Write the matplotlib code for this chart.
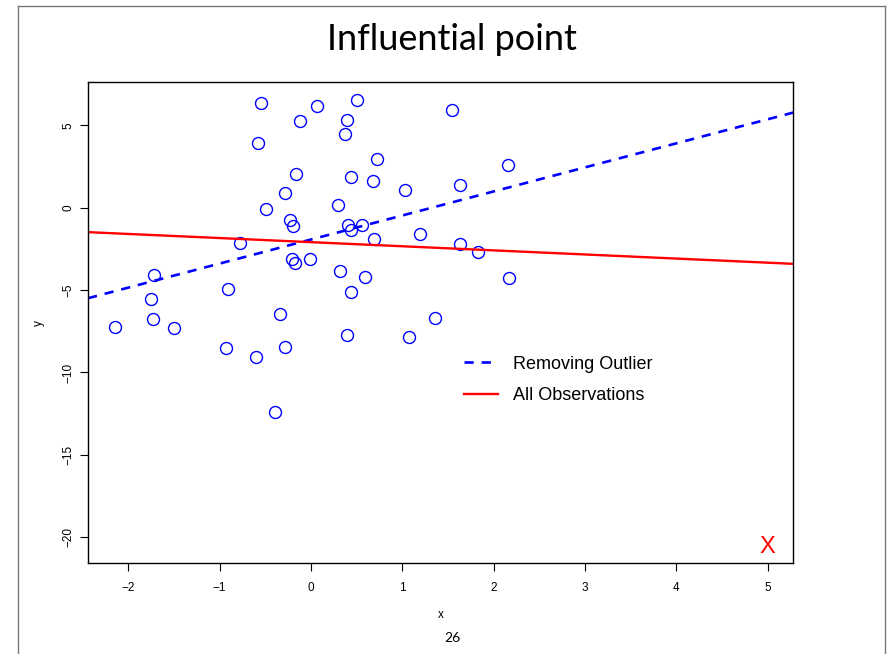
import numpy as np
import matplotlib.pyplot as plt
from matplotlib.lines import Line2D

# observations
x = [-2.15, -1.72, -1.75, -1.73, -1.50, -0.78, -0.91, -0.93, -0.60, -0.55,
     -0.58, -0.49, -0.39, -0.34, -0.28, -0.29, -0.23, -0.20, -0.21, -0.18,
     -0.16, -0.12, -0.01, 0.07, 0.30, 0.32, 0.37, 0.39, 0.50, 0.40,
     0.44, 0.44, 0.44, 0.39, 0.56, 0.59, 0.68, 0.69, 0.72, 1.03,
     1.07, 1.19, 1.36, 1.54, 1.63, 1.63, 1.83, 2.16, 2.17]
y = [-7.22, -4.08, -5.54, -6.74, -7.32, -2.14, -4.95, -8.53, -9.06, 6.37,
     3.94, -0.10, -12.38, -6.43, -8.43, 0.87, -0.73, -1.09, -3.11, -3.34,
     2.06, 5.28, -3.11, 6.19, 0.15, -3.84, 4.45, 5.34, 6.54, -1.05,
     -1.37, 1.88, -5.10, -7.74, -1.02, -4.22, 1.62, -1.90, 2.94, 1.06,
     -7.83, -1.61, -6.69, 5.91, 1.38, -2.22, -2.69, 2.59, -4.27]

outlier_x = 5.0
outlier_y = -20.59

# fitted lines (intercept, slope)
fit_labels = ['Removing Outlier', 'All Observations']
fit_intercepts = [-1.93, -2.09]
fit_slopes = [1.459, -0.249]

xticks = [-2, -1, 0, 1, 2, 3, 4, 5]
yticks = [-20, -15, -10, -5, 0, 5]

plt.rcParams['font.family'] = ['Liberation Sans', 'DejaVu Sans']

fig = plt.figure(figsize=(8.88, 6.54), dpi=100)
W, H = 888.0, 654.0

# slide frame
fig.add_artist(Line2D([18 / W, 18 / W], [0, 1 - 6 / H], color='#777777', lw=1))
fig.add_artist(Line2D([885 / W, 885 / W], [0, 1 - 6 / H], color='#777777', lw=1))
fig.add_artist(Line2D([18 / W, 885 / W], [1 - 6 / H, 1 - 6 / H], color='#777777', lw=1))

fig.text(452 / W, 1 - 40 / H, 'Influential point', fontsize=26, family='Lato',
         ha='center', va='center')
fig.text(452 / W, 1 - 638 / H, '26', fontsize=10, family='Lato',
         ha='center', va='center')

ax = fig.add_axes([88 / W, 1 - 563.3 / H, (793.3 - 88) / W, (563.3 - 82) / H])

ax.plot(x, y, 'o', mfc='none', mec='blue', ms=8.6, mew=1)

styles = [dict(color='blue', ls=(0, (3.5, 3)), lw=1.9),
          dict(color='red', ls='-', lw=1.7)]
for lab, b, m, st in zip(fit_labels, fit_intercepts, fit_slopes, styles):
    ax.axline((0, b), slope=m, label=lab, **st)

ax.text(outlier_x, outlier_y, 'X', color='red', fontsize=17,
        ha='center', va='center')

ax.set_xlim(-2.442, 5.282)
ax.set_ylim(-21.58, 7.63)
ax.set_xticks(xticks)
ax.set_yticks(yticks)
ax.set_xticklabels([str(t).replace('-', '\u2212') for t in xticks])
ax.set_yticklabels([str(t).replace('-', '\u2212') for t in yticks],
                   rotation=90, va='center')
ax.tick_params(length=5.8, width=0.8, labelsize=8.5)
ax.tick_params(axis='x', pad=8)
ax.tick_params(axis='y', pad=4)
for s in ax.spines.values():
    s.set_linewidth(1)

ax.set_xlabel('x', fontsize=8.5, labelpad=10.5)
ax.set_ylabel('y', fontsize=8.5, labelpad=12.5)

ax.legend(loc='upper left', bbox_to_anchor=(0.51, 0.465), frameon=False,
          fontsize=13, handlelength=1.9, handletextpad=0.8, labelspacing=0.8)

fig.savefig('out.png', dpi=100)
